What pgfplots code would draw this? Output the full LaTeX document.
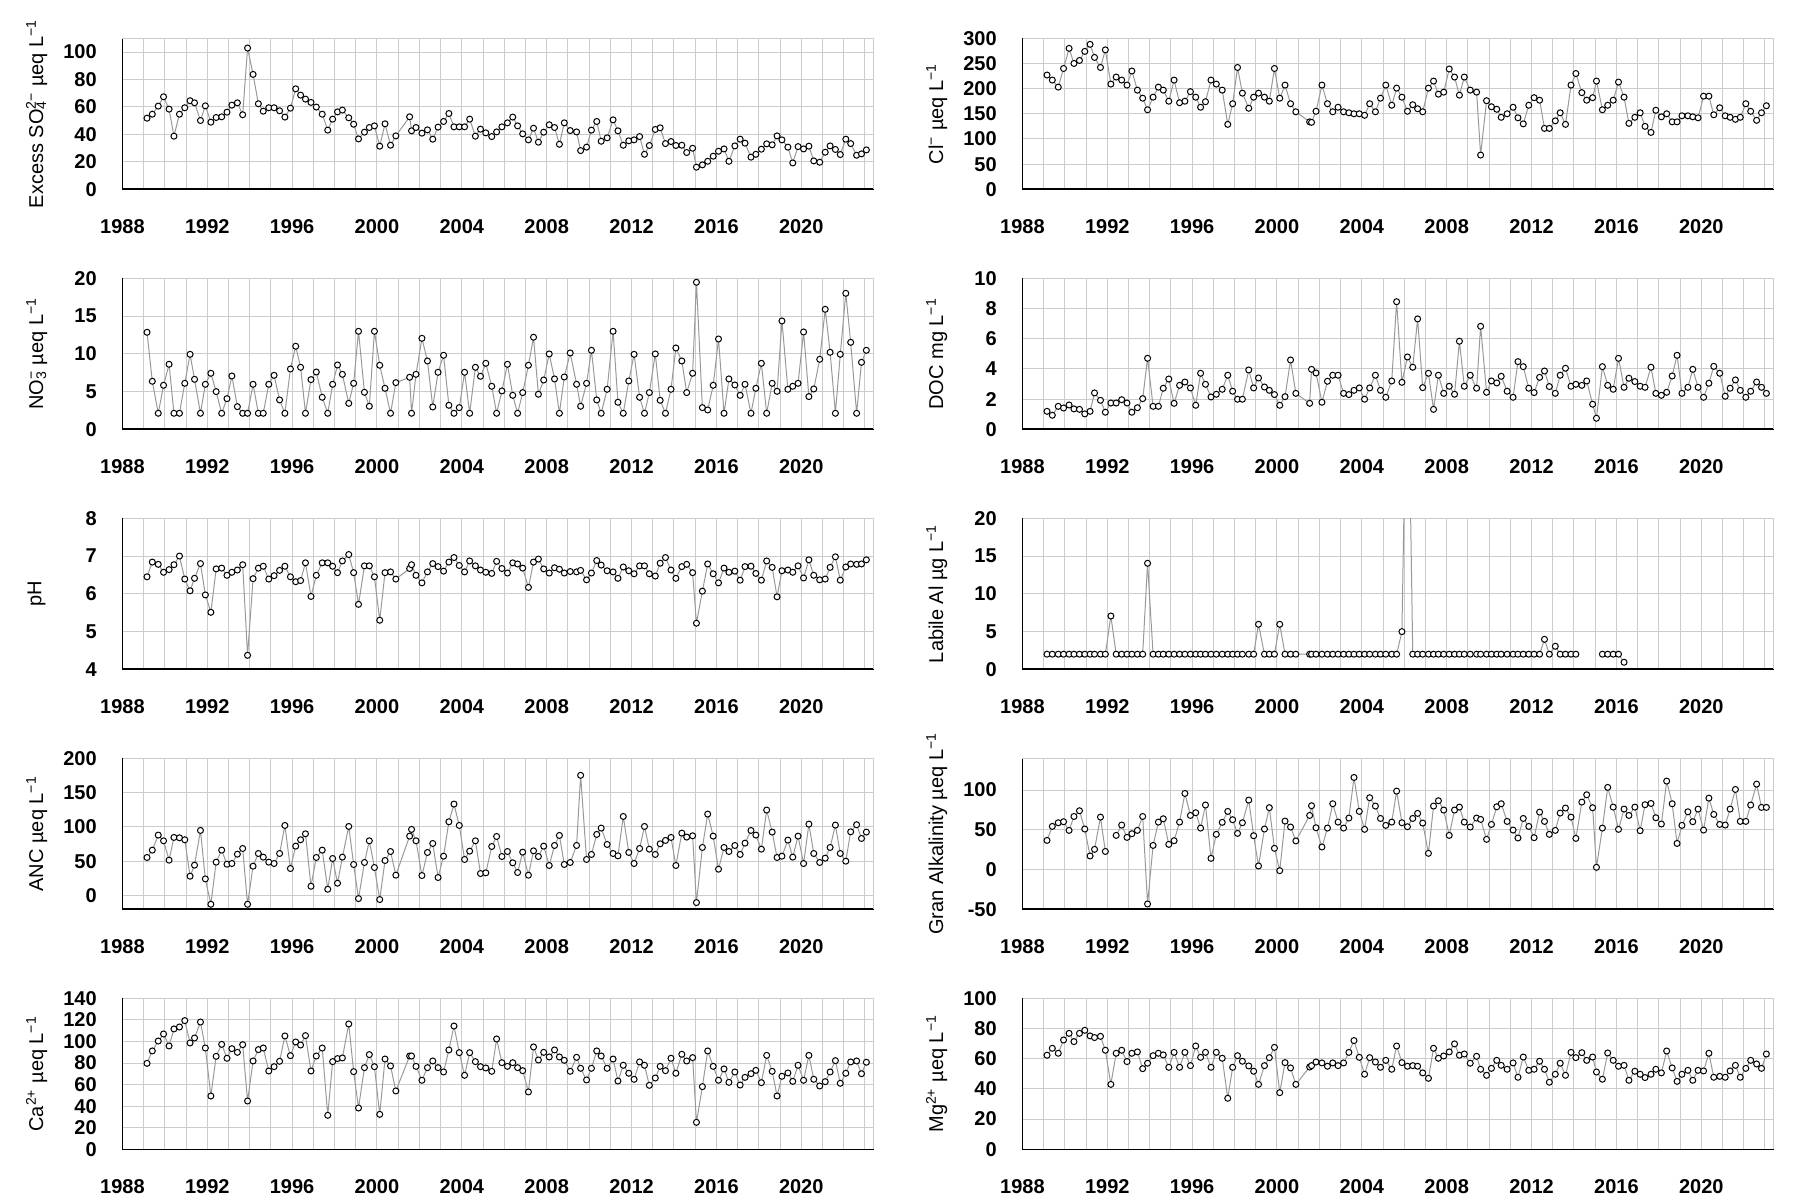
\documentclass[border=0pt]{standalone}
\usepackage{pgfplots}
\pgfplotsset{compat=1.18}
\usepackage{pgfplotstable}
\usepackage{fontspec}
\setmainfont{Liberation Sans}

\pgfplotstableread{
t so4 cl no3 doc ph al anc alk ca mg
1989.16 51.8 227 12.85 1.19 6.45 2 55.5 36.7 79.7 62.3
1989.41 54.7 217 6.36 0.93 6.84 2 66.2 54.3 91.2 66.9
1989.69 60.6 203 2.12 1.52 6.78 2 88.1 58.9 100.4 63.6
1989.94 67.4 240 5.83 1.41 6.57 2 79.8 60.2 106.9 72.4
1990.20 58.4 280 8.61 1.61 6.64 2 51.6 49.3 95.8 76.8
1990.43 38.7 250 2.12 1.35 6.77 2 84.7 66.8 111.6 71.3
1990.69 54.7 256 2.12 1.32 7.00 2 84.2 74.0 113.4 76.8
1990.94 59.4 274 6.09 1.02 6.39 2 81.3 51.0 119.3 78.8
1991.19 64.5 288 9.93 1.19 6.08 2 28.2 17.1 98.6 75.1
1991.40 63.0 262 6.62 2.41 6.41 2 44.3 25.4 103.2 74.0
1991.68 50.1 242 2.12 1.92 6.80 2 94.9 66.0 118.0 74.8
1991.91 60.8 277 5.96 1.13 5.97 2 24.3 22.8 93.9 65.6
1992.17 48.9 209 7.42 1.74 5.51 7.06 -12.7 nan 49.4 43.0
1992.42 52.3 223 4.99 1.74 6.66 2 48.7 43.0 86.2 63.6
1992.68 52.8 217 2.12 1.96 6.68 2 66.2 56.0 97.3 65.6
1992.93 56.2 207 4.06 1.74 6.49 2 45.7 40.5 84.4 58.1
1993.16 61.3 235 7.06 1.13 6.57 2 46.7 45.1 93.3 63.6
1993.42 63.0 197 3.00 1.43 6.63 2 60.3 49.3 89.9 64.5
1993.67 54.3 181 2.12 2.03 6.77 2 68.6 66.8 97.0 53.4
1993.90 102.9 158 2.12 4.70 4.37 14.04 -12.7 -43.3 44.8 57.0
1994.16 83.7 183 5.96 1.52 6.40 2 42.8 30.4 81.9 62.0
1994.41 62.3 203 2.12 1.52 6.68 2 61.3 59.7 92.4 63.6
1994.64 56.9 197 2.12 2.72 6.73 2 56.0 63.9 93.9 62.5
1994.90 59.4 175 5.96 3.33 6.39 2 48.7 31.7 72.6 54.3
1995.15 59.4 217 7.15 1.72 6.48 2 46.7 36.3 76.6 64.2
1995.41 57.2 172 3.89 2.91 6.62 2 61.3 59.7 81.6 54.3
1995.66 52.6 175 2.12 3.13 6.73 2 102.2 95.8 105.1 64.2
1995.92 59.1 194 7.99 2.74 6.45 2 39.4 68.1 86.8 55.4
1996.17 73.2 183 11.0 1.59 6.32 2 72.0 71.5 99.5 68.4
1996.40 68.6 163 8.21 3.71 6.35 2 81.3 52.2 96.7 60.9
1996.63 65.7 174 2.12 2.98 6.82 2 90.0 81.2 105.4 64.2
1996.89 63.3 217 6.58 2.14 5.93 2 13.6 14.1 72.6 54.3
1997.14 59.9 209 7.59 2.32 6.49 2 55.5 44.3 86.5 64.2
1997.42 54.7 197 4.24 2.65 6.82 2 66.2 59.4 93.9 60.3
1997.68 43.1 129 2.12 3.58 6.82 2 9.2 73.2 31.5 33.8
1997.91 51.1 170 5.96 2.52 6.73 2 54.0 62.7 81.3 54.3
1998.14 56.4 242 8.52 1.99 6.56 2 18.0 45.5 84.1 62.0
1998.37 57.7 191 7.28 1.99 6.87 2 56.0 58.9 84.7 58.3
1998.67 52.1 161 3.44 3.93 7.04 2 100.7 87.4 116.2 55.2
1998.90 47.4 183 6.09 2.74 6.56 2 45.3 42.6 72.0 51.7
1999.13 36.7 191 12.98 3.40 5.72 5.96 -4.4 4.5 38.3 43.0
1999.41 41.6 183 4.90 2.80 6.74 2 48.2 51.0 75.7 55.4
1999.64 45.0 175 3.05 2.58 6.74 2 79.8 77.9 87.8 60.7
1999.88 46.2 240 12.98 2.30 6.45 2 40.9 26.7 76.6 67.5
2000.13 31.4 181 8.48 1.59 5.30 5.96 -5.8 -1.4 32.4 37.5
2000.38 47.7 207 5.43 2.16 6.56 2 51.1 61.0 83.7 57.4
2000.64 32.1 170 2.12 4.59 6.58 2 64.2 53.5 77.3 53.9
2000.89 38.9 154 6.18 2.38 6.39 2 29.7 36.0 54.1 43.0
2001.54 52.8 134 6.89 1.72 6.67 2 86.6 68.1 86.5 54.5
2001.63 42.6 133 2.12 3.97 6.77 2 96.4 80.3 86.5 55.4
2001.84 45.0 155 7.28 3.73 6.49 2 79.8 52.6 76.9 57.8
2002.12 40.9 207 12.05 1.79 6.29 2 29.2 28.4 64.0 57.2
2002.38 43.3 170 9.05 3.18 6.58 2 62.8 52.2 75.7 55.0
2002.63 36.5 154 2.96 3.58 6.80 2 75.9 82.8 81.9 57.2
2002.88 45.3 163 7.55 3.58 6.72 2 26.3 59.7 75.7 55.4
2003.14 49.4 154 9.80 2.38 6.60 2 57.4 52.2 71.7 57.2
2003.39 55.2 152 3.18 2.30 6.84 2 107.5 64.8 92.1 64.2
2003.63 45.5 150 2.12 2.58 6.96 2 133.3 115.9 114.3 72.0
2003.88 45.5 150 2.87 2.74 6.75 2 102.2 73.2 89.6 60.9
2004.13 45.5 147 7.55 1.99 6.58 2 52.6 50.6 68.6 49.7
2004.37 51.1 170 2.12 2.74 6.87 2 64.7 90.4 89.6 60.7
2004.64 38.7 154 8.21 3.58 6.74 2 79.8 79.9 81.3 57.8
2004.88 43.8 181 7.02 2.58 6.63 2 32.1 64.3 76.6 54.3
2005.13 41.1 207 8.74 2.12 6.57 2 33.1 55.6 75.4 58.9
2005.41 38.4 167 5.70 3.20 6.54 2 71.5 59.7 72.3 53.0
2005.64 41.8 201 2.12 8.45 6.86 2 86.1 98.7 102.3 68.4
2005.89 45.5 183 5.08 3.11 6.67 4.99 56.9 58.9 80.3 57.4
2006.15 48.4 155 8.61 4.79 6.55 48 64.2 53.9 76.9 55.0
2006.40 52.6 168 4.50 4.11 6.82 2 47.7 64.3 80.3 55.4
2006.63 46.2 160 2.12 7.31 6.79 2 33.6 70.7 75.7 55.0
2006.87 40.4 154 4.86 2.76 6.68 2 63.3 58.5 72.9 50.6
2007.14 36.0 201 8.48 3.71 6.17 2 29.7 20.4 53.2 47.0
2007.38 44.5 215 12.19 1.32 6.84 2 65.2 79.9 94.9 66.9
2007.61 34.3 189 4.64 3.58 6.92 2 56.9 86.6 82.8 60.3
2007.86 41.6 193 6.53 2.38 6.66 2 72.0 74.9 89.9 61.8
2008.12 47.0 239 9.98 2.85 6.55 2 43.8 43.0 85.6 64.5
2008.37 45.0 223 6.67 2.32 6.69 2 73.0 74.9 92.1 69.8
2008.60 32.8 187 2.12 5.83 6.65 2 87.6 78.6 85.6 62.3
2008.83 48.4 223 6.93 2.85 6.55 2 45.3 59.7 82.5 63.1
2009.11 42.8 197 10.11 3.58 6.59 2 48.2 53.5 72.3 57.0
2009.41 41.8 193 5.96 2.72 6.58 2 73.0 64.8 85.3 61.6
2009.60 28.2 68 3.05 6.82 6.62 2 175.2 63.1 75.1 53.0
2009.88 30.7 176 6.09 2.45 6.37 2 52.6 38.0 64.3 49.0
2010.11 43.1 164 10.46 3.20 6.55 2 59.9 56.8 75.1 53.6
2010.36 49.4 159 3.89 3.07 6.88 2 89.1 79.0 91.2 58.9
2010.57 35.0 143 2.12 3.51 6.76 2 98.3 82.8 86.5 55.6
2010.85 37.5 150 5.30 2.52 6.61 2 74.5 60.6 75.1 53.0
2011.13 50.6 163 12.98 2.12 6.58 2 61.3 49.7 83.7 57.2
2011.36 42.6 142 3.58 4.48 6.41 2 57.9 39.7 63.3 47.7
2011.61 32.1 130 2.12 4.15 6.71 2 115.3 64.3 77.9 61.1
2011.87 35.3 167 6.40 2.72 6.61 2 62.8 54.3 70.5 52.3
2012.12 36.0 182 9.93 2.43 6.53 2 46.7 40.1 64.9 53.0
2012.38 38.4 177 4.24 3.44 6.74 2 68.6 72.3 81.0 58.3
2012.61 25.5 121 2.12 3.86 6.74 3.97 100.7 60.6 77.9 53.0
2012.84 31.9 121 4.86 2.83 6.53 2 67.6 44.3 59.3 44.4
2013.12 43.6 136 9.98 2.38 6.47 3.05 59.9 49.3 66.1 49.7
2013.35 44.8 152 3.84 3.58 6.81 2 75.4 71.1 76.9 57.0
2013.60 33.3 129 2.12 4.04 6.96 2 80.3 77.4 72.9 49.0
2013.86 34.8 207 5.30 2.85 6.63 2 84.7 66.0 84.4 64.2
2014.09 31.9 230 10.77 2.98 6.41 2 43.8 39.2 70.5 60.7
2014.37 32.1 192 9.05 2.91 6.72 nan 91.0 84.9 88.1 64.0
2014.60 26.8 177 4.86 3.20 6.78 nan 85.2 94.1 81.9 58.9
2014.88 29.9 182 7.42 1.66 6.56 nan 87.1 77.8 85.0 61.1
2015.06 16.1 215 19.47 0.73 5.22 nan -10.2 2.8 25.0 51.2
2015.34 17.8 158 2.87 4.15 6.07 2 70.1 52.2 58.1 46.4
2015.59 20.4 167 2.56 2.91 6.79 2 118.7 103.4 91.2 63.8
2015.85 24.1 177 5.83 2.65 6.53 2 86.6 78.6 76.9 58.9
2016.10 27.7 213 11.96 4.70 6.29 2 38.4 50.6 64.0 55.0
2016.36 29.4 183 2.12 2.78 6.68 0.93 70.1 76.1 74.5 55.6
2016.59 20.4 131 6.67 3.38 6.57 nan 64.2 68.1 62.1 45.7
2016.87 31.6 143 5.87 3.16 6.60 nan 73.0 78.6 71.7 51.7
2017.12 36.5 152 4.50 2.85 6.36 nan 59.9 48.9 59.6 49.7
2017.35 33.6 125 5.96 2.78 6.72 nan 76.4 81.6 66.7 47.5
2017.63 23.4 113 2.12 4.11 6.73 nan 94.9 83.2 70.1 49.7
2017.86 25.5 157 5.43 2.38 6.54 nan 88.1 65.2 73.2 53.0
2018.12 29.2 144 8.74 2.25 6.36 nan 67.6 57.3 61.8 50.6
2018.37 33.1 150 2.12 2.45 6.87 nan 124.6 111.3 87.1 65.1
2018.63 32.4 134 6.09 3.53 6.70 nan 92.5 82.8 72.3 53.9
2018.86 38.9 134 5.03 4.90 5.92 nan 55.5 32.9 49.4 45.0
2019.09 36.0 146 14.35 2.38 6.61 nan 57.4 55.6 67.7 49.7
2019.37 30.7 146 5.30 2.78 6.63 nan 80.8 72.7 70.8 52.3
2019.60 19.2 144 5.70 3.97 6.57 nan 56.0 60.2 63.0 45.7
2019.85 31.1 142 6.09 2.78 6.74 nan 86.6 76.1 77.9 52.3
2020.11 29.4 185 12.89 2.12 6.42 nan 46.7 49.7 64.0 51.9
2020.36 31.4 185 4.33 3.05 6.90 nan 104.1 89.9 87.1 63.6
2020.59 20.7 148 5.34 4.17 6.49 nan 61.3 69.4 64.9 47.7
2020.87 19.7 162 9.27 3.71 6.37 nan 48.2 56.8 58.7 48.3
2021.13 27.0 146 15.89 2.19 6.39 nan 54.5 56.0 62.7 47.7
2021.36 31.6 143 10.20 2.72 6.70 nan 70.1 76.1 71.7 51.9
2021.61 29.0 139 2.12 3.27 6.98 nan 102.7 100.8 82.2 55.6
2021.84 25.3 143 9.93 2.58 6.36 nan 61.3 60.6 61.2 47.7
2022.10 36.5 170 18.01 2.12 6.71 nan 50.1 60.6 70.5 53.6
2022.33 33.3 155 11.52 2.52 6.79 nan 92.9 81.2 81.0 58.9
2022.61 24.8 137 2.12 3.13 6.78 nan 103.2 107.5 81.9 56.5
2022.84 25.8 152 8.87 2.78 6.79 nan 83.2 78.2 70.1 53.6
2023.07 28.7 166 10.46 2.38 6.90 nan 92.5 78.2 80.7 63.1
}\data

\pgfplotsset{
  panel/.style={
    scale only axis, width=375.7pt, height=75.5pt,
    xmin=1988, xmax=2023.42,
    xtick={1988,1992,1996,2000,2004,2008,2012,2016,2020},
    xticklabels={1988,1992,1996,2000,2004,2008,2012,2016,2020},
    minor xtick={1989,1990,...,2023},
    grid=both,
    major grid style={draw=black!20, line width=0.5pt},
    minor grid style={draw=black!20, line width=0.5pt},
    axis x line*=bottom, axis y line*=left,
    axis line style={black, line width=0.8pt, -},
    major tick length=0pt, minor tick length=0pt,
    tick style={draw=none},
    ticklabel style={font=\fontsize{10}{12}\selectfont\bfseries},
    xticklabel style={yshift=-11.5pt},
    yticklabel style={xshift=-9.3pt},
    ylabel style={at={(axis description cs:-0.1141,0.5)}, anchor=center, font=\fontsize{10}{12}\selectfont},
    extra x ticks={2023.42}, extra x tick labels={},
    extra tick style={grid=major, major tick length=0pt},
    clip=true,
  },
  ser/.style={color=black!40, line width=0.5pt, mark=*, mark size=1.5pt,
    mark options={draw=black, fill=white, line width=0.5pt}},
}

\begin{document}
\begin{tikzpicture}
\path[use as bounding box] (0,0) rectangle (900pt,600pt);

% Row 1
\begin{axis}[panel, at={(61.2pt,505.35pt)}, anchor=south west,
  ymin=0, ymax=110, ytick={0,20,40,60,80,100}, yticklabels={0,20,40,60,80,100},
  extra y ticks={110}, extra y tick labels={},
  ylabel={Excess SO\rlap{\textsubscript{4}}\textsuperscript{2−} µeq L\textsuperscript{−1}}]
\addplot[ser] table[x=t, y=so4] {\data};
\end{axis}
\begin{axis}[panel, at={(511.2pt,505.35pt)}, anchor=south west,
  ymin=0, ymax=300, ytick={0,50,100,150,200,250,300}, yticklabels={0,50,100,150,200,250,300},
  ylabel={Cl\textsuperscript{−} µeq L\textsuperscript{−1}}]
\addplot[ser] table[x=t, y=cl] {\data};
\end{axis}

% Row 2
\begin{axis}[panel, at={(61.2pt,385.35pt)}, anchor=south west,
  ymin=0, ymax=20, ytick={0,5,10,15,20}, yticklabels={0,5,10,15,20},
  ylabel={NO\rlap{\textsubscript{3}}\textsuperscript{−} µeq L\textsuperscript{−1}}]
\addplot[ser] table[x=t, y=no3] {\data};
\end{axis}
\begin{axis}[panel, at={(511.2pt,385.35pt)}, anchor=south west,
  ymin=0, ymax=10, ytick={0,2,4,6,8,10}, yticklabels={0,2,4,6,8,10},
  ylabel={DOC mg L\textsuperscript{−1}}]
\addplot[ser] table[x=t, y=doc] {\data};
\end{axis}

% Row 3
\begin{axis}[panel, at={(61.2pt,265.35pt)}, anchor=south west,
  ymin=4, ymax=8, ytick={4,5,6,7,8}, yticklabels={4,5,6,7,8},
  ylabel={pH}]
\addplot[ser] table[x=t, y=ph] {\data};
\end{axis}
\begin{axis}[panel, at={(511.2pt,265.35pt)}, anchor=south west,
  ymin=0, ymax=20, ytick={0,5,10,15,20}, yticklabels={0,5,10,15,20},
  ylabel={Labile Al µg L\textsuperscript{−1}}, unbounded coords=jump]
\addplot[ser] table[x=t, y=al] {\data};
\end{axis}

% Row 4
\begin{axis}[panel, at={(61.2pt,145.35pt)}, anchor=south west,
  ymin=-20, ymax=200, ytick={0,50,100,150,200}, yticklabels={0,50,100,150,200},
  ylabel={ANC µeq L\textsuperscript{−1}}]
\addplot[ser] table[x=t, y=anc] {\data};
\end{axis}
\begin{axis}[panel, at={(511.2pt,145.35pt)}, anchor=south west,
  ymin=-50, ymax=140, ytick={-50,0,50,100}, yticklabels={-50,0,50,100},
  extra y ticks={140}, extra y tick labels={},
  ylabel={Gran Alkalinity µeq L\textsuperscript{−1}}, unbounded coords=jump]
\addplot[ser] table[x=t, y=alk] {\data};
\end{axis}

% Row 5
\begin{axis}[panel, at={(61.2pt,25.35pt)}, anchor=south west,
  ymin=0, ymax=140, ytick={0,20,40,60,80,100,120,140}, yticklabels={0,20,40,60,80,100,120,140},
  ylabel={Ca\textsuperscript{2+} µeq L\textsuperscript{−1}}]
\addplot[ser] table[x=t, y=ca] {\data};
\end{axis}
\begin{axis}[panel, at={(511.2pt,25.35pt)}, anchor=south west,
  ymin=0, ymax=100, ytick={0,20,40,60,80,100}, yticklabels={0,20,40,60,80,100},
  ylabel={Mg\textsuperscript{2+} µeq L\textsuperscript{−1}}]
\addplot[ser] table[x=t, y=mg] {\data};
\end{axis}
\end{tikzpicture}
\end{document}
